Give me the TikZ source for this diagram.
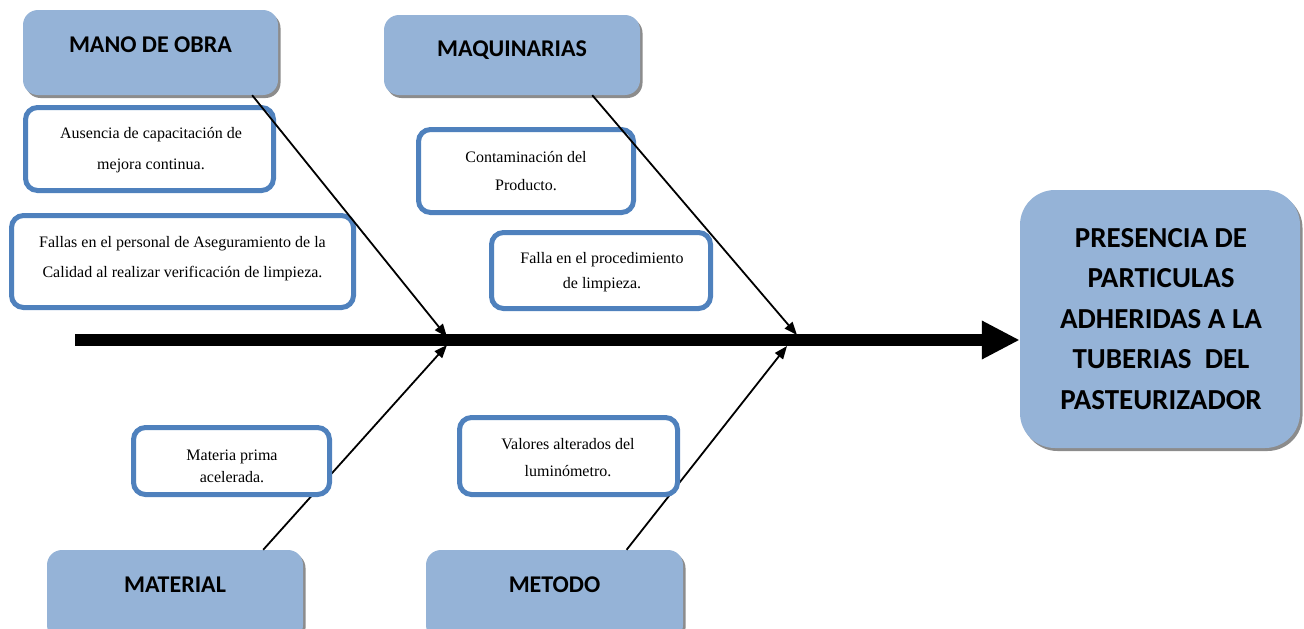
\documentclass[tikz,border=0pt]{standalone}
\usepackage{fontspec}
\setmainfont{Liberation Serif}
\newfontfamily\hfont{Carlito}
\usetikzlibrary{arrows.meta,shadows,calc}
\definecolor{hblue}{HTML}{95B3D7}
\definecolor{bblue}{HTML}{4F81BD}
\tikzset{
  hdrbox/.style={draw=none, fill=hblue, rounded corners=15pt,
    drop shadow={shadow xshift=2.5pt, shadow yshift=-3pt, fill=black!45, opacity=1}},
  hdrtext/.style={font=\hfont\bfseries\fontsize{24}{28}\selectfont, inner sep=0pt},
  causebox/.style={draw=bblue, line width=5pt, fill=white, rounded corners=12pt},
  causetext/.style={font=\fontsize{16}{29}\selectfont, align=center, inner sep=0pt},
  bone/.style={line width=1.8pt, -{Triangle[length=13pt,width=10pt]}},
}
\begin{document}
\begin{tikzpicture}[x=1pt,y=-1pt]
\useasboundingbox (0,0) rectangle (1304,629);
% header boxes
\node[hdrbox, minimum width=255, minimum height=85] (mano) at (150.5,52.5) {};
\node[hdrtext] (manot) at (150.5,45) {MANO DE OBRA};
\node[hdrbox, minimum width=256, minimum height=80] (maq) at (512,55) {};
\node[hdrtext] (maqt) at (512,50) {MAQUINARIAS};
\node[hdrbox, minimum width=256, minimum height=90] (material) at (175,595) {};
\node[hdrtext] (materialt) at (175,585) {MATERIAL};
\node[hdrbox, minimum width=257, minimum height=90] (metodo) at (554.5,595) {};
\node[hdrtext] (metodot) at (554.5,585) {METODO};
\node[hdrbox, rounded corners=35pt, minimum width=280, minimum height=258] (head) at (1160,319) {};
\node[font=\hfont\bfseries\fontsize{29}{40.5}\selectfont, align=center, inner sep=0pt] (headt) at (1161,319)
  {PRESENCIA DE\\PARTICULAS\\ADHERIDAS A LA\\TUBERIAS\ \ DEL\\PASTEURIZADOR};
% upper cause boxes
\node[causebox, minimum width=248, minimum height=83] (aus) at (149.5,149) {};
\node[causetext, font=\fontsize{16}{31}\selectfont] (aust) at (151,150) {Ausencia de capacitación de\\mejora continua.};
\node[causebox, minimum width=342, minimum height=92] (fal) at (182.5,261.5) {};
\node[causetext, font=\fontsize{16}{30}\selectfont] (falt) at (182.5,259) {Fallas en el personal de Aseguramiento de la\\Calidad al realizar verificación de limpieza.};
\node[causebox, minimum width=215, minimum height=83] (cont) at (526,171) {};
\node[causetext, font=\fontsize{16}{28}\selectfont] (contt) at (526,171) {Contaminación del\\Producto.};
\node[causebox, minimum width=219, minimum height=76] (proc) at (601,270.5) {};
\node[causetext, font=\fontsize{16}{25}\selectfont] (proct) at (602,272) {Falla en el procedimiento\\de limpieza.};
% spine
\coordinate (tail) at (75,340);
\coordinate (j1t) at (447,337);
\coordinate (j1b) at (447,345);
\coordinate (j2t) at (797,335);
\coordinate (j2b) at (787,346);
\draw[line width=12pt, -{Triangle[length=38pt,width=36pt]}] (tail) -- (head.west |- tail);
% upper bones
\draw[bone] ($(mano.south west)!0.898!(mano.south east)$) -- (j1t);
\draw[bone] ($(maq.south west)!0.813!(maq.south east)$) -- (j2t);
% lower bones
\draw[bone] ($(material.north west)!0.844!(material.north east)$) -- (j1b);
\draw[bone] ($(metodo.north west)!0.78!(metodo.north east)$) -- (j2b);
% lower cause boxes
\node[causebox, minimum width=196, minimum height=67] (mat) at (231.5,461) {};
\node[causetext, font=\fontsize{16}{22}\selectfont] (matt) at (232,466) {Materia prima\\acelerada.};
\node[causebox, minimum width=218, minimum height=77] (val) at (568.5,456) {};
\node[causetext, font=\fontsize{16}{27}\selectfont] (valt) at (568,458) {Valores alterados del\\luminómetro.};
\end{tikzpicture}
\end{document}
